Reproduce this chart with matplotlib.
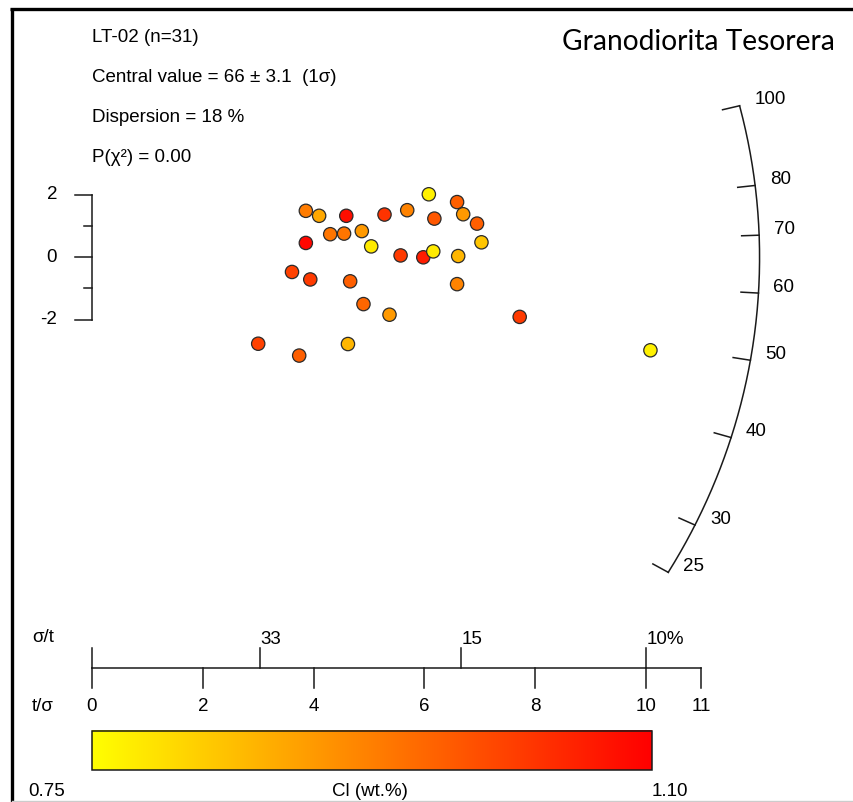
import numpy as np
import matplotlib
matplotlib.use("Agg")
import matplotlib.pyplot as plt
from matplotlib.colors import LinearSegmentedColormap
from matplotlib.patches import Rectangle
from matplotlib import font_manager

# ---------------- data ----------------
t_over_sigma = [3.86, 4.10, 4.59, 5.28, 5.69, 6.08, 6.59, 6.18, 6.70, 6.95,
                4.30, 4.55, 4.87, 3.86, 5.04, 5.57, 5.98, 6.16, 6.61, 7.03,
                3.61, 3.94, 4.66, 6.59, 4.90, 5.37, 7.72, 3.00, 3.74, 4.62,
                10.08]
z_std = [1.49, 1.33, 1.33, 1.37, 1.51, 2.02, 1.77, 1.24, 1.38, 1.08,
         0.74, 0.76, 0.84, 0.46, 0.35, 0.06, 0.00, 0.19, 0.04, 0.48,
         -0.47, -0.71, -0.77, -0.86, -1.50, -1.84, -1.91, -2.77, -3.15, -2.78,
         -2.98]
cl_wt = [0.93, 0.87, 1.08, 1.03, 0.92, 0.77, 0.97, 0.98, 0.89, 0.97,
         0.94, 0.94, 0.89, 1.09, 0.78, 1.02, 1.06, 0.78, 0.85, 0.83,
         1.01, 1.02, 0.97, 0.92, 0.96, 0.89, 1.02, 1.01, 0.97, 0.85,
         0.77]

sample_name = "LT-02"
central_value = 66
central_err = 3.1
dispersion = 18
p_chi2 = 0.00
title_right = "Granodiorita Tesorera"
arc_ticks = [25, 30, 40, 50, 60, 70, 80, 100]
x_ticks = [0, 2, 4, 6, 8, 10, 11]
rel_err_ticks = [33, 15, 10]
y_ticks = [-2, -1, 0, 1, 2]
y_tick_labels = ["-2", "", "0", "", "2"]
cl_min, cl_max = 0.75, 1.10
cl_label = "Cl (wt.%)"

# ---------------- layout ----------------
W, H = 854, 802
X0, SX = 92.0, 55.4      # pixel of t/sigma = 0, pixels per unit
Y0, SY = 257.3, 31.2     # pixel of z = 0, pixels per unit
ARC_A, ARC_B = 12.05, 20.0
TICK_LEN = 17.5

def xd(px):
    return (px - X0) / SX

def yd(py):
    return (Y0 - py) / SY

names = {f.name for f in font_manager.fontManager.ttflist}
FONT = "Liberation Sans Narrow" if "Liberation Sans Narrow" in names else "Liberation Sans"

fig = plt.figure(figsize=(W / 100, H / 100), dpi=100)
ax = fig.add_axes([0, 0, 1, 1])
ax.set_xlim(xd(0), xd(W))
ax.set_ylim(yd(H), yd(0))
ax.axis("off")
renderer = fig.canvas.get_renderer()

def fit(txt, width_px):
    bb = txt.get_window_extent(renderer)
    txt.set_fontsize(txt.get_fontsize() * width_px / bb.width)

lw = 1.1
col = "#1a1a1a"

# ---------------- frame ----------------
ax.plot([xd(10), xd(W)], [yd(9.5), yd(9.5)], color="black", lw=2.4,
        solid_capstyle="butt")
ax.plot([xd(11.5), xd(11.5)], [yd(8.3), yd(H)], color="black", lw=2.4,
        solid_capstyle="butt")
ax.plot([xd(12), xd(W)], [yd(800.5), yd(800.5)], color="#cccccc", lw=1.0)

# ---------------- header text ----------------
fs = 11.5
lines = [f"{sample_name} (n={len(t_over_sigma)})",
         f"Central value = {central_value} \u00b1 {central_err}  (1\u03c3)",
         f"Dispersion = {dispersion} %",
         f"P(\u03c7\u00b2) = {p_chi2:.2f}"]
ys = [38, 78, 117, 157]
tcv = ax.text(0, yd(ys[1]), lines[1], family=[FONT, "DejaVu Sans"],
              fontsize=fs, ha="left", va="center")
fit(tcv, 245)
fs = tcv.get_fontsize()
for i, (s, yy) in enumerate(zip(lines, ys)):
    if i == 1:
        continue
    ax.text(0, yd(yy), s, family=[FONT, "DejaVu Sans"], fontsize=fs,
            ha="left", va="center")

tr = ax.text(xd(562), yd(42), title_right, family="Lato", fontsize=16,
             ha="left", va="center")
fit(tr, 274)

# ---------------- y bracket ----------------
ax.plot([0, 0], [min(y_ticks), max(y_ticks)], color=col, lw=lw)
for yt, lab in zip(y_ticks, y_tick_labels):
    L = 17.5 if lab else 7.5
    ax.plot([0, -L / SX], [yt, yt], color=col, lw=lw)
    if lab:
        ax.text(xd(57), yt, lab, family=FONT, fontsize=fs, ha="right",
                va="center")

# ---------------- points ----------------
cmap = LinearSegmentedColormap.from_list("yr", ["#FFFF00", "#FF0000"])
ax.scatter(t_over_sigma, z_std, c=cl_wt, cmap=cmap, vmin=cl_min, vmax=cl_max,
           s=92, edgecolors="#2a2a2a", linewidths=0.9, zorder=5)

# ---------------- radial arc ----------------
def arc_xy(m):
    x = 1.0 / np.sqrt(1.0 / ARC_A ** 2 + m ** 2 / ARC_B ** 2)
    return x, m * x

m_lo = np.log(min(arc_ticks) / central_value)
m_hi = np.log(max(arc_ticks) / central_value)
mm = np.linspace(m_lo, m_hi, 300)
ax_, ay_ = arc_xy(mm)
ax.plot(ax_, ay_, color=col, lw=lw)
for t in arc_ticks:
    m = np.log(t / central_value)
    x, y = arc_xy(m)
    r = np.hypot(x * SX, y * SY)
    f = 1 - TICK_LEN / r
    ax.plot([x, x * f], [y, y * f], color=col, lw=lw)
    ax.text(x + 15 / SX, y + 6 / SY, str(t), family=FONT, fontsize=fs,
            ha="left", va="center")

# ---------------- bottom precision axis ----------------
y_ax = yd(668)
ax.plot([0, max(x_ticks)], [y_ax, y_ax], color=col, lw=lw)
for xt in x_ticks:
    ax.plot([xt, xt], [y_ax, yd(688)], color=col, lw=lw)
    ax.text(xt, yd(707), str(xt), family=FONT, fontsize=fs, ha="center",
            va="center")
ax.plot([0, 0], [y_ax, yd(648)], color=col, lw=lw)
for i, e in enumerate(rel_err_ticks):
    xt = 100.0 / e
    ax.plot([xt, xt], [y_ax, yd(648)], color=col, lw=lw)
    lab = f"{e}%" if i == len(rel_err_ticks) - 1 else str(e)
    ax.text(xt + 0.5 / SX, yd(639), lab, family=FONT, fontsize=fs,
            ha="left", va="center")
ax.text(xd(32), yd(638), "\u03c3/t", family=[FONT, "DejaVu Sans"],
        fontsize=fs, ha="left", va="center")
ax.text(xd(32), yd(707), "t/\u03c3", family=[FONT, "DejaVu Sans"],
        fontsize=fs, ha="left", va="center")

# ---------------- colour bar ----------------
cb_x0, cb_x1 = 0.0, xd(652)
cb_top, cb_bot = yd(731), yd(770)
grad = np.linspace(cl_min, cl_max, 256).reshape(1, -1)
ax.imshow(grad, extent=[cb_x0, cb_x1, cb_bot, cb_top], aspect="auto",
          cmap=cmap, vmin=cl_min, vmax=cl_max, interpolation="bilinear",
          zorder=2)
ax.add_patch(Rectangle((cb_x0, cb_bot), cb_x1 - cb_x0, cb_top - cb_bot,
                       fill=False, edgecolor=col, lw=lw, zorder=3))
ax.text(xd(47), yd(792), f"{cl_min:.2f}", family=FONT, fontsize=fs,
        ha="center", va="center")
ax.text(xd(670), yd(792), f"{cl_max:.2f}", family=FONT, fontsize=fs,
        ha="center", va="center")
ax.text(xd(370), yd(792), cl_label, family=FONT, fontsize=fs, ha="center",
        va="center")

ax.set_xlim(xd(0), xd(W))
ax.set_ylim(yd(H), yd(0))

fig.savefig("out.png", dpi=100)
